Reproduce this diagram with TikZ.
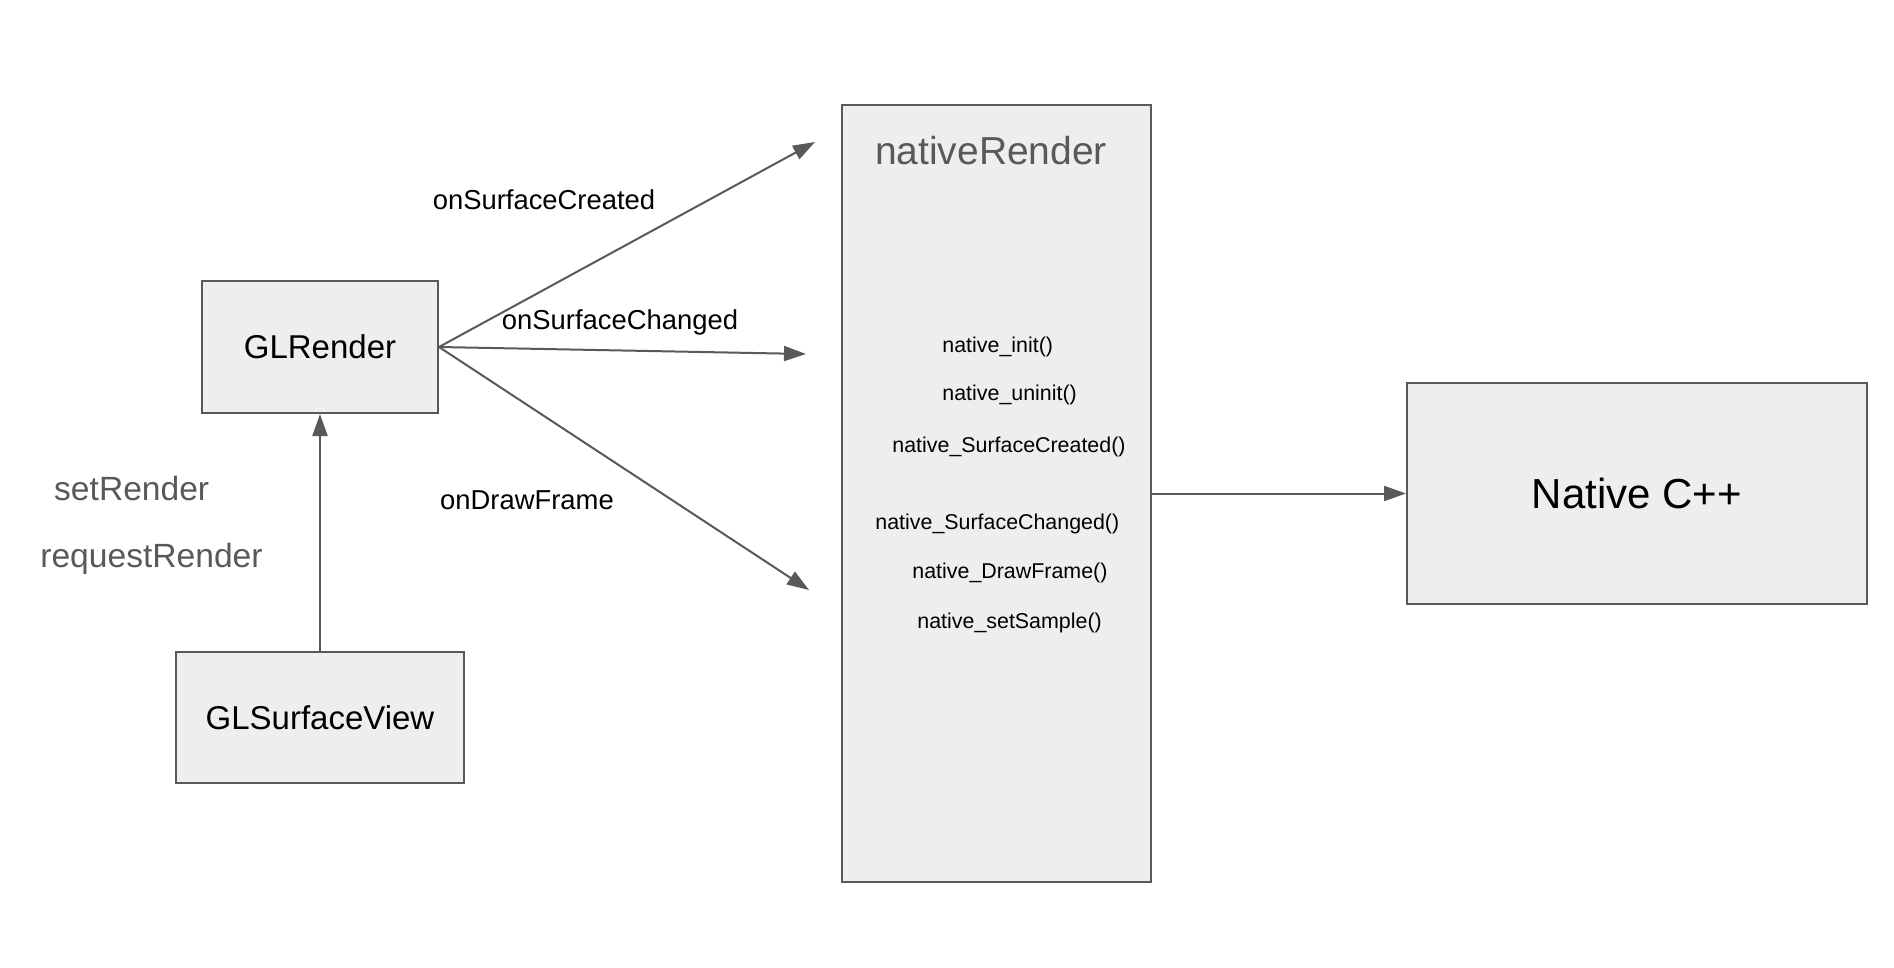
\documentclass[tikz,border=0pt]{standalone}
\usepackage{fontspec}
\setmainfont{Liberation Sans}
\usetikzlibrary{arrows.meta}
\definecolor{boxfill}{HTML}{EEEEEE}
\definecolor{linegray}{HTML}{595959}

\begin{document}
\begin{tikzpicture}[x=0.5pt,y=-0.5pt,inner sep=0pt,
  box/.style={draw=linegray,line width=1pt,fill=boxfill,font=\fontsize{16.5}{20}\selectfont},
  conn/.style={draw=linegray,line width=1pt,-{Triangle[length=11pt,width=7.5pt]}},
  edgelbl/.style={anchor=base,font=\fontsize{13.7}{16}\selectfont},
  graylbl/.style={anchor=base,text=linegray,font=\fontsize{16.8}{20}\selectfont},
  call/.style={anchor=base west,font=\fontsize{10.7}{13}\selectfont}]

\useasboundingbox (0,0) rectangle (1894,968);

\node(glr) at (320,347) [box,minimum width=118pt,minimum height=66pt] {GLRender};
\node(glsv) at (320,717.5) [box,minimum width=144pt,minimum height=65.5pt] {GLSurfaceView};
\node(nr) at (996.5,493.5) [box,minimum width=154.5pt,minimum height=388.5pt] {};
\node(cpp) at (1637,493.5) [box,minimum width=230pt,minimum height=110.5pt,font=\fontsize{21}{25}\selectfont] {Native C++};

\node(title) at (991,165) [anchor=base,text=linegray,font=\fontsize{19.5}{23}\selectfont] {nativeRender};
\node(f1) at (942,352) [call] {native\_init()};
\node(f2) at (942,400) [call] {native\_uninit()};
\node(f3) at (892,452.7) [call] {native\_SurfaceCreated()};
\node(f4) at (875,529) [call] {native\_SurfaceChanged()};
\node(f5) at (912,578) [call] {native\_DrawFrame()};
\node(f6) at (917,628.3) [call] {native\_setSample()};

%\coordinate ends of the three callbacks
\coordinate(e1) at (815,142);
\coordinate(e2) at (806,354);
\coordinate(e3) at (809,590);

\draw[conn] (glr.east) -- (e1);
\draw[conn] (glr.east) -- (e2);
\draw[conn] (glr.east) -- (e3);
\draw[conn] (glsv.north) -- (glr.south);
\draw[conn] (nr.east) -- (cpp.west);

\node(l1) at (544,209.3) [edgelbl] {onSurfaceCreated};
\node(l2) at (620,329.3) [edgelbl] {onSurfaceChanged};
\node(l3) at (527,509.3) [edgelbl] {onDrawFrame};
\node(s1) at (131.7,500) [graylbl] {setRender};
\node(s2) at (151.5,567) [graylbl] {requestRender};

\end{tikzpicture}
\end{document}
